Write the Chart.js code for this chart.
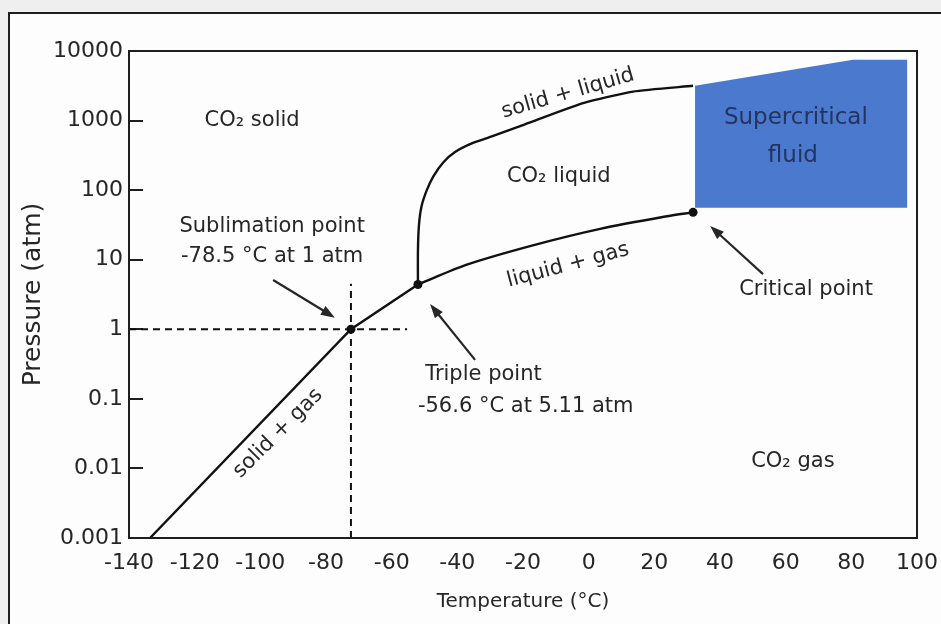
<!DOCTYPE html>
<html lang="en">
<head>
  <meta charset="UTF-8" />
  <title>CO2 phase diagram</title>
  <script src="https://cdn.jsdelivr.net/npm/chart.js"></script>
  <style>
    html, body { margin: 0; padding: 0; }
    body { background: #efefef; width: 941px; height: 624px; overflow: hidden; position: relative; }
    .frame {
      position: absolute; left: 8px; top: 12px; width: 1000px; height: 1000px;
      border: 2px solid #1e1e1e; background: #fdfdfd;
    }
    .chart-box { position: absolute; left: 0; top: 0; width: 941px; height: 624px; }
  </style>
</head>
<body>
  <div class="frame"></div>
  <div class="chart-box"><canvas id="phaseChart"></canvas></div>

  <script>
    // Axis ticks
    const pressureTicks = [0.001, 0.01, 0.1, 1, 10, 100, 1000, 10000];

    // Phase boundaries (temperature °C, pressure atm)
    const solidGasT = [-133.6, -72.4, -52.0];
    const solidGasP = [0.001, 1, 4.4];

    const solidLiquidT = [-52.0, -52.0, -51.7, -50.9, -49.3, -47.3, -44.3, -40.7, -35.6, -29.5, -19.4, -1.7, 13.5, 31.8];
    const solidLiquidP = [4.4, 13.2, 30.9, 58.6, 100, 158, 250, 353, 470, 591, 881, 1778, 2610, 3162];

    const liquidGasT = [-52.0, -37.1, -17.0, 3.5, 23.9, 31.8];
    const liquidGasP = [4.4, 8.5, 16.1, 27.8, 42.2, 48];

    // Supercritical fluid region outline
    const superT = [32.4, 80.5, 97, 97, 32.4, 32.4];
    const superP = [3162, 7500, 7500, 56, 56, 3162];

    // Marked points: sublimation, triple, critical
    const keyT = [-72.4, -52.0, 31.8];
    const keyP = [1, 4.4, 48];

    // Dashed guides through the sublimation point
    const guideVT = [-72.4, -72.4];
    const guideVP = [0.001, 4.5];
    const guideHT = [-140, -55.3];
    const guideHP = [1, 1];

    // Callout arrows: tail -> head
    const arrowTailT = [-96.1, -34.6, 53.1];
    const arrowTailP = [5.1, 0.363, 6.2];
    const arrowHeadT = [-77.3, -48.3, 37.0];
    const arrowHeadP = [1.47, 2.3, 30.6];

    const toPoints = (xs, ys) => xs.map((x, i) => ({ x: x, y: ys[i] }));

    // Text placed in the plot (data coordinates)
    const notes = [
      { text: 'CO₂ solid', t: -102.5, p: 1000 },
      { text: 'CO₂ liquid', t: -9.1, p: 156 },
      { text: 'CO₂ gas', t: 62.2, p: 0.0127 },
      { text: 'solid + liquid', t: -6.3, p: 2449, angle: -16 },
      { text: 'liquid + gas', t: -6.3, p: 8.3, angle: -15 },
      { text: 'solid + gas', t: -94.6, p: 0.032, angle: -45 },
      { text: 'Sublimation point', t: -96.4, p: 29.6 },
      { text: '-78.5 °C at 1 atm', t: -96.4, p: 11.0 },
      { text: 'Triple point', t: -49.8, p: 0.222, align: 'left' },
      { text: '-56.6 °C at 5.11 atm', t: -52.0, p: 0.0763, align: 'left' },
      { text: 'Critical point', t: 66.2, p: 3.7 },
      { text: 'Supercritical', t: 63.1, p: 1100, color: '#22345f', size: 23 },
      { text: 'fluid', t: 62.2, p: 311, color: '#22345f', size: 23 }
    ];

    const ink = '#262626';
    const family = '"DejaVu Sans", Lato, sans-serif';
    Chart.defaults.font.family = family;
    Chart.defaults.color = ink;

    function drawArrow(ctx, x1, y1, x2, y2) {
      const a = Math.atan2(y2 - y1, x2 - x1);
      const len = 14, half = 5;
      const c = Math.cos(a), s = Math.sin(a);
      ctx.beginPath();
      ctx.moveTo(x1, y1);
      ctx.lineTo(x2 - c * len * 0.7, y2 - s * len * 0.7);
      ctx.stroke();
      ctx.beginPath();
      ctx.moveTo(x2, y2);
      ctx.lineTo(x2 - c * len + s * half, y2 - s * len - c * half);
      ctx.lineTo(x2 - c * len - s * half, y2 - s * len + c * half);
      ctx.closePath();
      ctx.fill();
    }

    const annotations = {
      id: 'annotations',
      afterDatasetsDraw(chart) {
        const { ctx, chartArea, scales: { x, y } } = chart;
        ctx.save();
        // plot box
        ctx.strokeStyle = '#1e1e1e';
        ctx.lineWidth = 2;
        ctx.strokeRect(chartArea.left, chartArea.top, chartArea.right - chartArea.left, chartArea.bottom - chartArea.top);

        // arrows
        ctx.strokeStyle = ink;
        ctx.fillStyle = ink;
        ctx.lineWidth = 2.2;
        arrowTailT.forEach((t, i) => {
          drawArrow(ctx,
            x.getPixelForValue(t), y.getPixelForValue(arrowTailP[i]),
            x.getPixelForValue(arrowHeadT[i]), y.getPixelForValue(arrowHeadP[i]));
        });

        // text
        ctx.textBaseline = 'middle';
        notes.forEach(n => {
          ctx.save();
          ctx.font = (n.size || 21) + 'px ' + family;
          ctx.translate(x.getPixelForValue(n.t), y.getPixelForValue(n.p));
          if (n.angle) ctx.rotate(n.angle * Math.PI / 180);
          ctx.textAlign = n.align || 'center';
          ctx.fillStyle = n.color || ink;
          ctx.fillText(n.text, 0, 0);
          ctx.restore();
        });
        ctx.restore();
      }
    };

    const curve = (label, xs, ys, tension) => ({
      label: label,
      data: toPoints(xs, ys),
      showLine: true,
      borderColor: '#111',
      borderWidth: 2.4,
      pointRadius: 0,
      tension: tension,
      order: 1
    });

    const guide = (label, xs, ys) => ({
      label: label,
      data: toPoints(xs, ys),
      showLine: true,
      borderColor: '#111',
      borderWidth: 2,
      borderDash: [7, 5],
      pointRadius: 0,
      order: 2
    });

    new Chart(document.getElementById('phaseChart'), {
      type: 'scatter',
      data: {
        datasets: [
          {
            label: 'Phase points',
            data: toPoints(keyT, keyP),
            showLine: false,
            pointRadius: 4.5,
            pointBackgroundColor: '#111',
            pointBorderWidth: 0,
            order: 0
          },
          curve('solid + gas', solidGasT, solidGasP, 0),
          curve('solid + liquid', solidLiquidT, solidLiquidP, 0.2),
          curve('liquid + gas', liquidGasT, liquidGasP, 0.3),
          guide('Sublimation guide (T)', guideVT, guideVP),
          guide('Sublimation guide (P)', guideHT, guideHP),
          {
            label: 'Supercritical fluid',
            data: toPoints(superT, superP),
            showLine: true,
            borderWidth: 0,
            borderColor: 'rgba(0,0,0,0)',
            backgroundColor: '#4b79cd',
            fill: 'shape',
            pointRadius: 0,
            order: 5
          }
        ]
      },
      options: {
        responsive: true,
        maintainAspectRatio: false,
        animation: false,
        layout: { padding: { left: 0, top: 51, right: 24, bottom: 0 } },
        plugins: {
          legend: { display: false },
          tooltip: { enabled: false }
        },
        scales: {
          x: {
            type: 'linear',
            min: -140,
            max: 100,
            border: { display: false },
            grid: { display: false, drawTicks: false },
            ticks: { stepSize: 20, padding: 12, font: { size: 22 }, color: ink },
            title: { display: true, text: 'Temperature (°C)', font: { size: 20 }, color: ink, padding: { top: 0, bottom: 10 } },
            afterFit(scale) {
              scale.height = 86;
              scale.paddingLeft = 0;
              scale.paddingRight = 0;
            }
          },
          y: {
            type: 'logarithmic',
            min: 0.001,
            max: 10000,
            border: { display: false },
            grid: { drawOnChartArea: false, tickLength: -14, lineWidth: 2, color: '#1e1e1e' },
            ticks: {
              padding: 20,
              font: { size: 22 },
              color: ink,
              callback: v => String(v)
            },
            afterBuildTicks(scale) { scale.ticks = pressureTicks.map(v => ({ value: v })); },
            title: { display: true, text: 'Pressure (atm)', font: { size: 25 }, color: ink, padding: { top: 18, bottom: 0 } },
            afterFit(scale) {
              scale.width = 129;
              scale.paddingTop = 0;
              scale.paddingBottom = 0;
            }
          }
        }
      },
      plugins: [annotations]
    });
  </script>
</body>
</html>
